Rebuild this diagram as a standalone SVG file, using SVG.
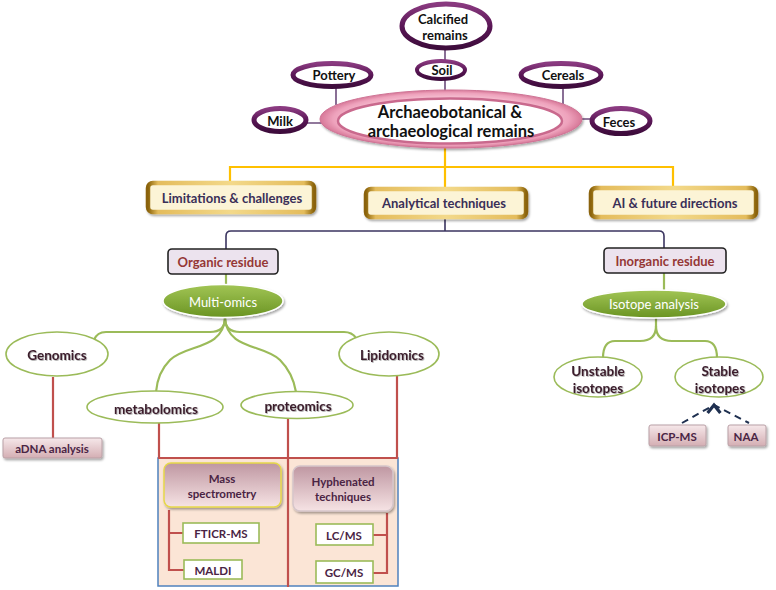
<svg xmlns="http://www.w3.org/2000/svg" width="776" height="590" viewBox="0 0 776 590">
<defs>
<linearGradient id="purp" x1="0" y1="0" x2="0" y2="1">
<stop offset="0" stop-color="#8a3a80"/><stop offset="0.5" stop-color="#5a1656"/><stop offset="1" stop-color="#3e0c3c"/>
</linearGradient>
<radialGradient id="pink" cx="0.5" cy="0.5" r="0.5">
<stop offset="0.7" stop-color="#f7c6d6"/><stop offset="0.9" stop-color="#eea2bc"/><stop offset="1" stop-color="#d77898"/>
</radialGradient>
<linearGradient id="gold" x1="0" y1="0" x2="1" y2="0">
<stop offset="0" stop-color="#8a6208"/><stop offset="0.06" stop-color="#e4bc5c"/><stop offset="0.5" stop-color="#f3d98a"/><stop offset="0.94" stop-color="#e4bc5c"/><stop offset="1" stop-color="#8a6208"/>
</linearGradient>
<linearGradient id="green" x1="0" y1="0" x2="0" y2="1">
<stop offset="0" stop-color="#a2c555"/><stop offset="1" stop-color="#6a9423"/>
</linearGradient>
<linearGradient id="rose" x1="0" y1="0" x2="0" y2="1">
<stop offset="0" stop-color="#f6e8ea"/><stop offset="1" stop-color="#d4aeb3"/>
</linearGradient>
<linearGradient id="mauve" x1="0" y1="0" x2="0" y2="1">
<stop offset="0" stop-color="#bf97a2"/><stop offset="1" stop-color="#f6e3e4"/>
</linearGradient>
<filter id="sh" x="-20%" y="-20%" width="140%" height="160%">
<feDropShadow dx="1.2" dy="1.8" stdDeviation="1.2" flood-color="#000" flood-opacity="0.35"/>
</filter>
<filter id="tsh" x="-10%" y="-20%" width="120%" height="150%">
<feDropShadow dx="0.8" dy="0.8" stdDeviation="0.6" flood-color="#000" flood-opacity="0.35"/>
</filter>
<marker id="tip" viewBox="0 0 10 10" refX="5" refY="2" markerWidth="8" markerHeight="8" orient="0">
<path d="M1,7 L5,2 L9,7" fill="none" stroke="#1f3050" stroke-width="2"/>
</marker>
</defs>
<style>
text{font-family:Lato,"Liberation Sans",Arial,sans-serif;text-anchor:middle;dominant-baseline:central;font-weight:bold}
.top{fill:#fff;stroke:url(#purp);stroke-width:5}
.topt{font-size:13px;fill:#111}
.gold{fill:#fcf4d6;stroke:url(#gold);stroke-width:4.5;filter:url(#sh)}
.goldt{font-size:13px;fill:#3a2f58}
.res{fill:#ece3ee;stroke:#222;stroke-width:1.6}
.rest{font-size:13px;fill:#953735}
.gel{fill:url(#green);stroke:#fff;stroke-width:1.5;filter:url(#sh)}
.gelt{font-size:13px;fill:#fff;font-weight:normal}
.om{fill:#fff;stroke:#9bbb59;stroke-width:1.6}
.omt{font-size:13.5px;fill:#3b1d2c;filter:url(#tsh)}
.rb{fill:url(#rose);stroke:#b9a0a6;stroke-width:1;filter:url(#sh)}
.rbt{font-size:11.5px;fill:#4a2444}
.mb{fill:url(#mauve);stroke-width:1.5;filter:url(#sh)}
.mbt{font-size:11.5px;fill:#4a2444}
.wb{fill:#fff;stroke:#9bbb59;stroke-width:1.6}
.wbt{font-size:11.5px;fill:#4a2444}
.cp{stroke:#6d4c7c;stroke-width:1.6;fill:none}
.cy{stroke:#ffc000;stroke-width:2.2;fill:none}
.cn{stroke:#3b3560;stroke-width:1.6;fill:none}
.cg{stroke:#9bbb59;stroke-width:2.2;fill:none}
.cr{stroke:#c0504d;stroke-width:2.2;fill:none}
.cd{stroke:#1f3050;stroke-width:2;fill:none;stroke-dasharray:7 5}
</style>
<g id="n-panel"><rect x="158" y="458" width="240" height="128" fill="#fbe5d6" stroke="#4f81bd" stroke-width="1.5"/></g>
<g id="connectors">
<path class="cp" d="M445,50 V62 M445,78 V91 M336,87 V105 M563,86 V104 M307,123 H322 M582,119 H593"/>
<path class="cy" d="M445,148 V187 M230,182 V167 H673 V186"/>
<path class="cn" d="M445,217 V231 M226,249 V236 Q226,231 231,231 H659 Q664,231 664,236 V248"/>
<path class="cg" d="M226,274 V285 M664,273 V290"/>
<path class="cg" d="M225,318 Q225,332 210,332 H106 Q97,332 94,340"/>
<path class="cg" d="M225,318 Q225,332 240,332 H344 Q352,332 356,338"/>
<path class="cg" d="M225,318 C223,350 186,344 170,360 C161,369 157,380 156,392"/>
<path class="cg" d="M225,318 C227,350 264,344 280,360 C289,369 294,380 296,392"/>
<path class="cg" d="M656,318 V326 Q656,341 640,341 H615 Q603,341 603,358"/>
<path class="cg" d="M656,326 Q656,341 672,341 H705 Q717,341 717,358"/>
<path class="cr" d="M53,377 V438 M159,423 V458 H397 V376 M288,418 V587"/>
<path class="cr" d="M169,510 V570 H184 M169,533 H183"/>
<path class="cr" d="M387,513 V573 H373 M387,535 H373"/>
<path class="cd" d="M682,423 L714,405 L749,423" marker-mid="url(#tip)"/>
</g>
<g id="n-calcified"><ellipse class="top" cx="446" cy="26" rx="44" ry="22"/><text class="topt" x="443" y="19">Calcified</text><text class="topt" x="445" y="35">remains</text></g>
<g id="n-soil"><ellipse class="top" cx="441" cy="70" rx="24" ry="9" style="stroke-width:4"/><text class="topt" x="442" y="70">Soil</text></g>
<g id="n-pottery"><ellipse class="top" cx="332" cy="75" rx="39" ry="11.5"/><text class="topt" x="334" y="75">Pottery</text></g>
<g id="n-cereals"><ellipse class="top" cx="561" cy="75" rx="40" ry="11.5"/><text class="topt" x="563" y="75">Cereals</text></g>
<g id="n-milk"><ellipse class="top" cx="280" cy="120" rx="26" ry="11.5"/><text class="topt" x="280" y="121">Milk</text></g>
<g id="n-feces"><ellipse class="top" cx="621" cy="121" rx="29" ry="12.5"/><text class="topt" x="619" y="122">Feces</text></g>
<g id="n-main">
<ellipse cx="451" cy="119" rx="131" ry="29" fill="url(#pink)" stroke="#cf7395" stroke-width="1" filter="url(#sh)"/>
<ellipse cx="450" cy="121" rx="112" ry="22.5" fill="#fff" stroke="#c9698d" stroke-width="2.5"/>
<text x="450" y="112" style="font-size:16.5px;fill:#111">Archaeobotanical &amp;</text>
<text x="451" y="131" style="font-size:16.5px;fill:#111">archaeological remains</text>
</g>
<g id="n-limitations"><rect class="gold" x="148" y="183" width="166" height="29" rx="5"/><text class="goldt" x="232" y="198">Limitations &amp; challenges</text></g>
<g id="n-analytical"><rect class="gold" x="366" y="189" width="160" height="28" rx="5"/><text class="goldt" x="444" y="203">Analytical techniques</text></g>
<g id="n-ai"><rect class="gold" x="591" y="188" width="165" height="29" rx="5"/><text class="goldt" x="675" y="203">AI &amp; future directions</text></g>
<g id="n-organic"><rect class="res" x="168" y="249" width="110" height="25" rx="4"/><text class="rest" x="223" y="262">Organic residue</text></g>
<g id="n-inorganic"><rect class="res" x="604" y="248" width="122" height="25" rx="4"/><text class="rest" x="665" y="261">Inorganic residue</text></g>
<g id="n-multiomics"><ellipse class="gel" cx="223" cy="301" rx="60" ry="16.5"/><text class="gelt" x="223" y="302">Multi-omics</text></g>
<g id="n-isotope"><ellipse class="gel" cx="654" cy="304" rx="72" ry="14"/><text class="gelt" x="654" y="304">Isotope analysis</text></g>
<g id="n-genomics"><ellipse class="om" cx="57" cy="354" rx="51" ry="22"/><text class="omt" x="57" y="355">Genomics</text></g>
<g id="n-lipidomics"><ellipse class="om" cx="389" cy="354" rx="50" ry="22"/><text class="omt" x="392" y="355">Lipidomics</text></g>
<g id="n-metabolomics"><ellipse class="om" cx="155" cy="407" rx="68" ry="16"/><text class="omt" x="156" y="409">metabolomics</text></g>
<g id="n-proteomics"><ellipse class="om" cx="297" cy="405" rx="56" ry="13.5"/><text class="omt" x="298" y="406">proteomics</text></g>
<g id="n-unstable"><ellipse class="om" cx="598" cy="377" rx="44" ry="20"/><text class="omt" x="598" y="371">Unstable</text><text class="omt" x="598" y="388">isotopes</text></g>
<g id="n-stable"><ellipse class="om" cx="719" cy="377" rx="44" ry="20"/><text class="omt" x="720" y="371">Stable</text><text class="omt" x="720" y="388">isotopes</text></g>
<g id="n-adna"><rect class="rb" x="3" y="438" width="99" height="20" rx="2"/><text class="rbt" x="52" y="448">aDNA analysis</text></g>
<g id="n-icpms"><rect class="rb" x="649" y="425" width="57" height="21" rx="2"/><text class="rbt" x="677" y="436">ICP-MS</text></g>
<g id="n-naa"><rect class="rb" x="728" y="425" width="38" height="21" rx="2"/><text class="rbt" x="746" y="436">NAA</text></g>
<g id="n-massspec"><rect class="mb" x="164" y="463" width="117" height="44" rx="7" stroke="#e6d74a"/><text class="mbt" x="222" y="478">Mass</text><text class="mbt" x="222" y="493">spectrometry</text></g>
<g id="n-hyphenated"><rect class="mb" x="293" y="466" width="100" height="45" rx="7" stroke="#d6c6ca"/><text class="mbt" x="343" y="481">Hyphenated</text><text class="mbt" x="343" y="496">techniques</text></g>
<g id="n-fticr"><rect class="wb" x="183" y="523" width="76" height="20"/><text class="wbt" x="221" y="533">FTICR-MS</text></g>
<g id="n-maldi"><rect class="wb" x="184" y="560" width="58" height="19"/><text class="wbt" x="213" y="570">MALDI</text></g>
<g id="n-lcms"><rect class="wb" x="316" y="524" width="57" height="21"/><text class="wbt" x="344" y="535">LC/MS</text></g>
<g id="n-gcms"><rect class="wb" x="316" y="561" width="57" height="22"/><text class="wbt" x="344" y="572">GC/MS</text></g>
</svg>
